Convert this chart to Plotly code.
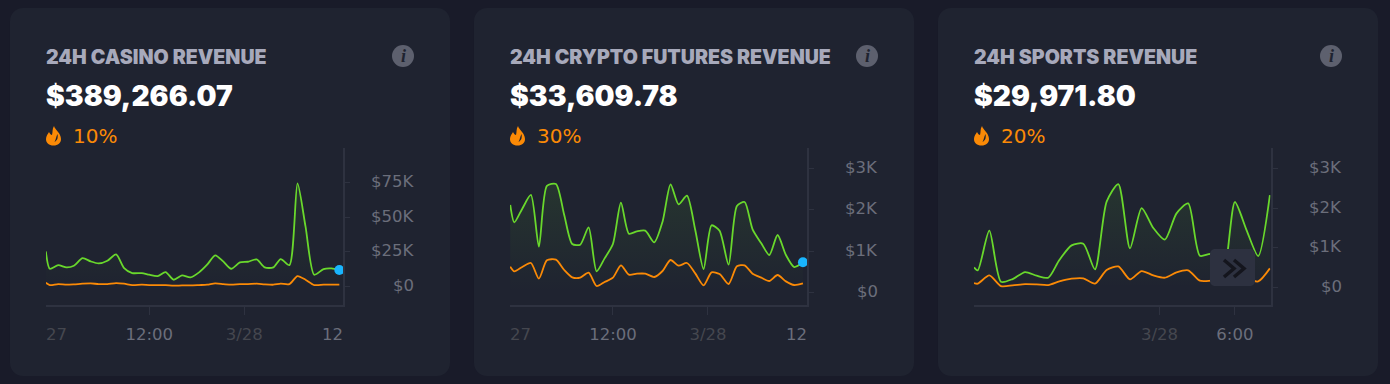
import plotly.graph_objects as go

W, H = 1390, 384
BG, CARD = "#191b29", "#1f2330"
GREEN, ORANGE, BLUE = "#69d82c", "#fb8a06", "#19b5fe"
AXIS, DIM, MID = "#2e3240", "#45474f", "#6b6e7b"
FONT = "Inter"
WIDE = "DejaVu Sans"

titles = ["24H CASINO REVENUE", "24H CRYPTO FUTURES REVENUE", "24H SPORTS REVENUE"]
totals = ["$389,266.07", "$33,609.78", "$29,971.80"]
shares = ["10%", "30%", "20%"]

# Hours since 3/27 00:00
hours_casino = [-1.05, -0.55, 0.51, 1.56, 2.49, 3.59, 4.61, 5.62, 6.72, 7.82, 8.83, 9.85, 11.07, 12, 13.06, 14.07,
                15.08, 16.14, 17.2, 18.29, 19.31, 20.32, 21.34, 22.35, 23.45, 24.46, 25.56, 26.58, 27.67, 28.6,
                29.7, 30.72, 31.73, 32.83, 34.01, 35.02, 36.0]
total_casino = [25168, 12584, 15246, 13552, 14762, 20328, 17908, 16456, 18392, 22990, 13068, 9438, 9438, 8228, 7260,
                10164, 4598, 7744, 6292, 9922, 15488, 22264, 17908, 12584, 17182, 17666, 19360, 13552, 13552, 19602,
                15246, 74536, 43318, 8228, 12342, 12826, 11616]
share_casino = [2420, 726, 1452, 968, 1210, 1694, 1936, 1452, 1452, 2178, 1694, 726, 968, 726, 726, 726, 242, 484,
                484, 726, 968, 1936, 1452, 968, 1452, 1452, 1694, 1210, 968, 1694, 1452, 7260, 4598, 726, 968, 968, 968]

hours_crypto = [-0.97, -0.46, 0.55, 1.64, 2.65, 3.66, 4.8, 5.85, 6.86, 7.87, 8.93, 9.94, 10.95, 12, 13.01, 14.02,
                15.03, 16.08, 17.22, 18.27, 19.28, 20.29, 21.35, 22.4, 23.45, 24.46, 25.47, 26.61, 27.66, 28.63,
                29.64, 30.74, 31.75, 32.8, 33.85, 34.9, 36.0]
total_crypto = [2115, 1696, 2026, 2356, 1110, 2573, 2621, 1873, 1174, 1158, 1576, 515, 828, 1174, 2171, 1423, 1479,
                1495, 1214, 1713, 2613, 2131, 2340, 1512, 571, 1624, 1495, 675, 2090, 2187, 1528, 1190, 909, 1391,
                909, 619, 732]
share_crypto = [627, 515, 619, 716, 338, 780, 796, 547, 370, 362, 482, 161, 257, 362, 659, 434, 458, 458, 378, 523,
                788, 651, 716, 466, 177, 490, 450, 209, 635, 659, 458, 362, 282, 426, 273, 185, 225]

hours_sports = [9.21, 9.51, 10.43, 11.36, 12.29, 13.28, 14.2, 15.13, 16.01, 16.99, 17.92, 18.85, 19.78, 20.71, 21.64,
                22.57, 23.5, 24.42, 25.35, 26.28, 27.21, 28.14, 29.07, 30, 30.93, 31.86, 32.79]
total_sports = [511, 436, 1433, 151, 218, 394, 302, 251, 696, 1064, 1106, 461, 2162, 2606, 989, 2003, 1500, 1207,
                1869, 2120, 804, 846, 318, 2154, 1450, 796, 2330]
share_sports = [117, 101, 310, 42, 59, 92, 84, 67, 159, 226, 235, 101, 444, 536, 210, 419, 310, 251, 385, 436, 176,
                176, 193, 402, 235, 159, 486]

y_ticks = [[0, 25000, 50000, 75000], [0, 1000, 2000, 3000], [0, 1000, 2000, 3000]]
y_labels = [["$0", "$25K", "$50K", "$75K"], ["$0", "$1K", "$2K", "$3K"], ["$0", "$1K", "$2K", "$3K"]]
x_ticks = [[12, 24], [12, 24], [24, 30]]
x_labels = [["12:00", "3/28"], ["12:00", "3/28"], ["3/28", "6:00"]]
x_colors = [[MID, DIM], [MID, DIM], [DIM, MID]]
x_ranges = [[-1.03, 36.4], [-1.0, 36.45], [9.21, 32.84]]
y_ranges = [[-13400, 100300], [-285, 3489], [-422, 3512]]
hours = [hours_casino, hours_crypto, hours_sports]
totals_y = [total_casino, total_crypto, total_sports]
shares_y = [share_casino, share_crypto, share_sports]
dots = [True, True, False]


def px(x): return x / W
def py(y): return 1 - y / H


def path(cmds):
    out = []
    for c in cmds:
        if isinstance(c, str):
            out.append(c)
        else:
            out.append(f"{px(c[0]):.6f},{py(c[1]):.6f}")
    return " ".join(out)


def rrect(x0, y0, x1, y1, r):
    k = r * 0.45
    return path(["M", (x0 + r, y0), "L", (x1 - r, y0), "C", (x1 - k, y0), (x1, y0 + k), (x1, y0 + r),
                 "L", (x1, y1 - r), "C", (x1, y1 - k), (x1 - k, y1), (x1 - r, y1),
                 "L", (x0 + r, y1), "C", (x0 + k, y1), (x0, y1 - k), (x0, y1 - r),
                 "L", (x0, y0 + r), "C", (x0, y0 + k), (x0 + k, y0), (x0 + r, y0), "Z"])


fig = go.Figure()
shapes, annots = [], []


def text(s, x, y, size, color, weight=400, xanchor="left", xref="paper", yref="paper", family=FONT, style="normal",
         yshift=0, xshift=0):
    annots.append(dict(text=s, x=x, y=y, xref=xref, yref=yref, xanchor=xanchor, yanchor="middle", showarrow=False,
                       font=dict(family=family, size=size, color=color, weight=weight, style=style),
                       borderpad=0, align="left", yshift=yshift, xshift=xshift))


card_left = [10, 474, 938]
for i in range(3):
    cx = card_left[i]
    ax = "" if i == 0 else str(i + 1)
    xa, ya = "x" + ax, "y" + ax
    left, right = cx + 36, cx + 332.5
    fig.update_layout({
        "xaxis" + ax: dict(domain=[px(left), px(right)], range=x_ranges[i], anchor=ya, showgrid=False, zeroline=False,
                           showline=True, linecolor=AXIS, linewidth=2, ticks="outside", ticklen=8, tickwidth=1,
                           tickcolor=AXIS, tickvals=x_ticks[i],
                           ticktext=[f'<span style="color:{c}">{t}</span>' for t, c in zip(x_labels[i], x_colors[i])],
                           tickfont=dict(family=WIDE, size=16.5, color=MID), ticklabelstandoff=6),
        "yaxis" + ax: dict(domain=[py(304.5), py(148)], range=y_ranges[i], anchor=xa, side="right", showgrid=False,
                           zeroline=False, showline=True, linecolor=AXIS, linewidth=2, ticks="outside", ticklen=5,
                           tickwidth=1, tickcolor=AXIS, tickvals=y_ticks[i], showticklabels=False),
    })
    fig.add_trace(go.Scatter(x=hours[i], y=totals_y[i], xaxis=xa, yaxis=ya, mode="lines",
                             line=dict(color=GREEN, width=1.8, shape="spline", smoothing=0.7),
                             fill="tozeroy", fillcolor="rgba(105,216,44,0.07)",
                             fillgradient=dict(type="vertical",
                                               colorscale=[[0, "rgba(105,216,44,0)"], [1, "rgba(105,216,44,0.10)"]]),
                             hoverinfo="skip", showlegend=False))
    fig.add_trace(go.Scatter(x=hours[i], y=shares_y[i], xaxis=xa, yaxis=ya, mode="lines",
                             line=dict(color=ORANGE, width=1.8, shape="spline", smoothing=0.7),
                             hoverinfo="skip", showlegend=False))
    if dots[i]:
        fig.add_trace(go.Scatter(x=hours[i][-1:], y=totals_y[i][-1:], xaxis=xa, yaxis=ya, mode="markers",
                                 marker=dict(color=BLUE, size=10), cliponaxis=False, hoverinfo="skip",
                                 showlegend=False))

    # Card
    shapes.append(dict(type="path", path=rrect(cx, 8, cx + 440, 376, 13), xref="paper", yref="paper",
                       fillcolor=CARD, line_width=0, layer="below"))
    # Header
    text(titles[i], px(cx + 34.8), py(57), 19.6, "#a7a9bb", 900)
    text(totals[i], px(cx + 34.8), py(96), 28.2, "#ffffff", 900)
    text(shares[i], px(cx + 61.5), py(136), 20, ORANGE, 400, family=WIDE)
    # Flame
    fx, fy = cx + 36, 126
    pt = lambda a, b: (fx + a, fy + b)
    shapes.append(dict(type="path", xref="paper", yref="paper", fillcolor=ORANGE, line_width=0, layer="above",
                       path=path(["M", pt(8, 0), "C", pt(9, 4), pt(15, 7), pt(15, 13), "C", pt(15, 17), pt(12, 19.5),
                                  pt(7.5, 19.5), "C", pt(3, 19.5), pt(0, 17), pt(0, 13), "C", pt(0, 10), pt(2, 8),
                                  pt(3, 6), "C", pt(4, 8), pt(5, 9), pt(6, 9), "C", pt(7, 6), pt(6, 3), pt(8, 0), "Z"])))
    shapes.append(dict(type="path", xref="paper", yref="paper", fillcolor=CARD, line_width=0, layer="above",
                       path=path(["M", pt(11.5, 8), "C", pt(12, 11), pt(12, 14), pt(8.5, 16), "C", pt(10, 13),
                                  pt(10, 11), pt(11.5, 8), "Z"])))
    # Info icon
    shapes.append(dict(type="circle", xref="paper", yref="paper", x0=px(cx + 382), x1=px(cx + 404), y0=py(67), y1=py(45),
                       fillcolor="#5d606e", line_width=0, layer="above"))
    text("i", px(cx + 393), py(56), 18, CARD, 700, xanchor="center", family="Liberation Serif", style="italic")
    # Y labels
    for v, lab in zip(y_ticks[i], y_labels[i]):
        text(lab, px(cx + 405), v, 16.5, MID, 400, xanchor="right", yref=ya, family=WIDE, yshift=1)
    # Clipped outer date labels
    if i < 2:
        text("27", x_ranges[i][0], py(334), 16.5, DIM, 400, xref=xa, family=WIDE, xshift=-1)
        text("12", x_ranges[i][1], py(334), 16.5, MID, 400, xanchor="right", xref=xa, family=WIDE, xshift=1)

# Scroll button
shapes.append(dict(type="path", xref="paper", yref="paper", path=rrect(1210, 249, 1255, 286, 5), fillcolor="#2d3140",
                   line_width=0, layer="above"))
for dx in (0, 10):
    shapes.append(dict(type="path", xref="paper", yref="paper", line=dict(color="#14151d", width=3.5), layer="above",
                       path=path(["M", (1224 + dx, 260), "L", (1234 + dx, 268.5), "L", (1224 + dx, 277)])))

fig.update_layout(width=W, height=H, autosize=False, margin=dict(l=0, r=0, t=0, b=0), paper_bgcolor=BG,
                  plot_bgcolor="rgba(0,0,0,0)", showlegend=False, shapes=shapes, annotations=annots,
                  font=dict(family=FONT))
fig.write_html("out.html", post_script="document.body.style.margin='0';document.body.style.background='%s';" % BG,
               config=dict(displayModeBar=False))
